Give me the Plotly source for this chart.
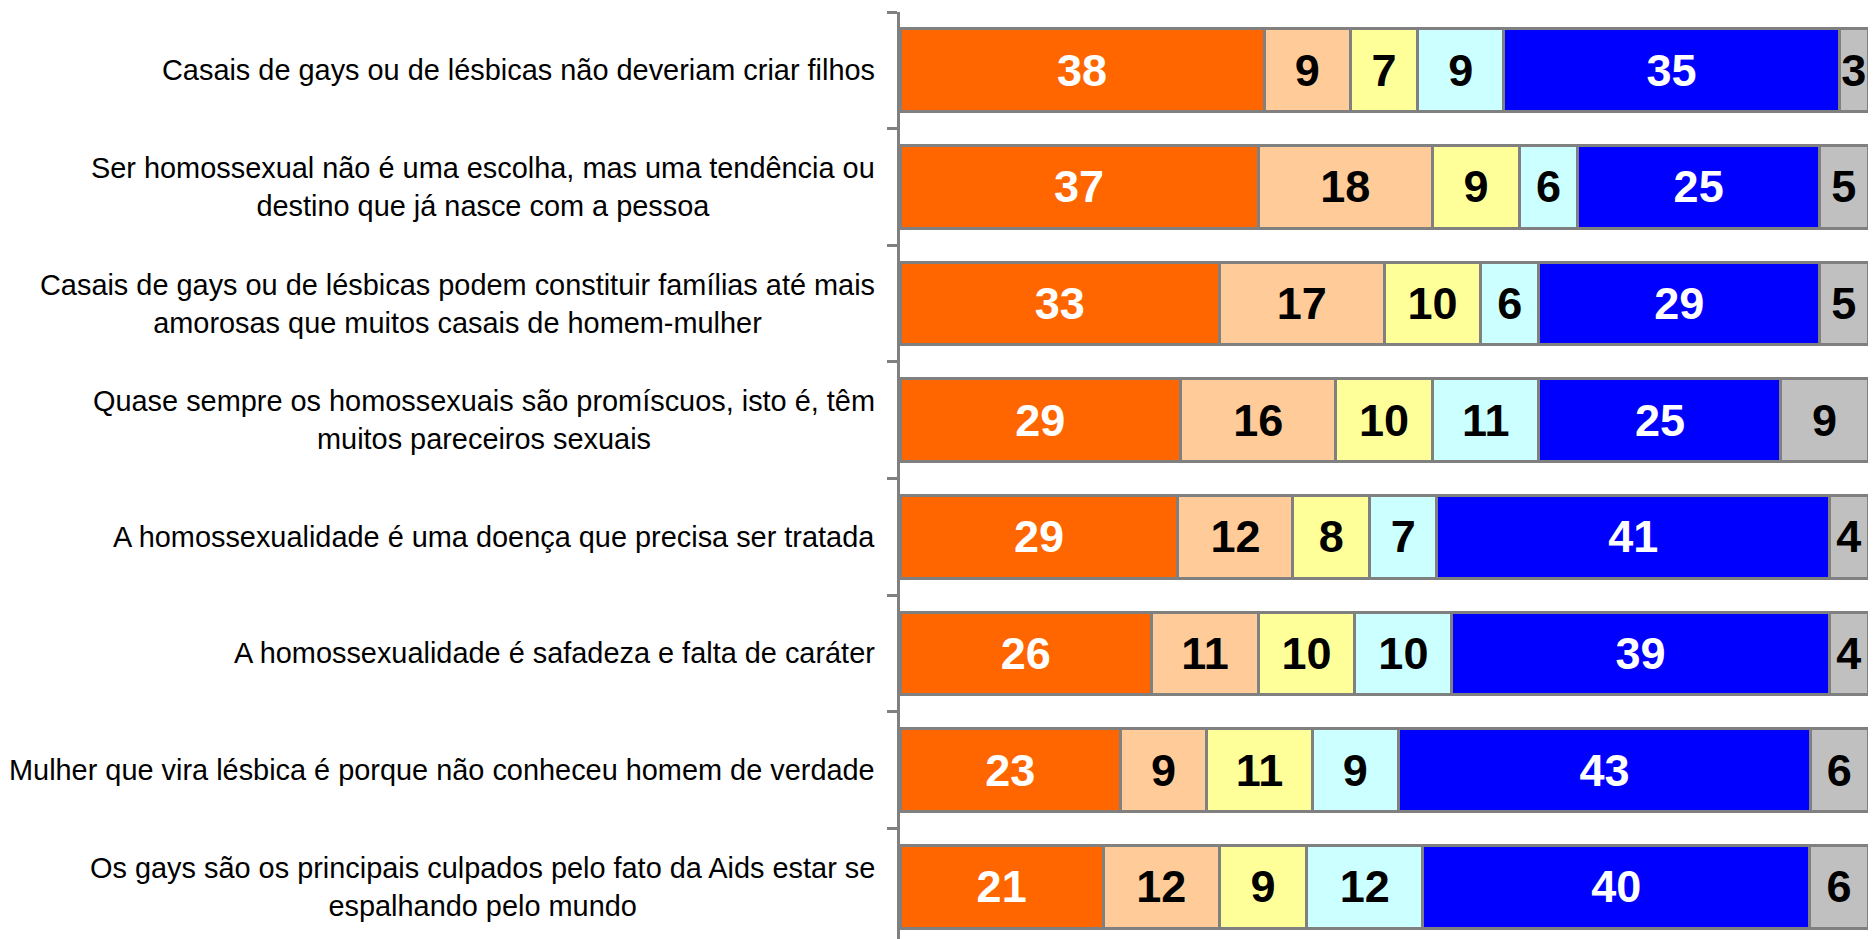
import plotly.graph_objects as go

categories = [
    "Casais de gays ou de lésbicas não deveriam criar filhos",
    "Ser homossexual não é uma escolha, mas uma tendência ou<br>destino que já nasce com a pessoa",
    "Casais de gays ou de lésbicas podem constituir famílias até mais<br>amorosas que muitos casais de homem-mulher",
    "Quase sempre os homossexuais são promíscuos, isto é, têm<br>muitos pareceiros sexuais",
    "A homossexualidade é uma doença que precisa ser tratada",
    "A homossexualidade é safadeza e falta de caráter",
    "Mulher que vira lésbica é porque não conheceu homem de verdade",
    "Os gays são os principais culpados pelo fato da Aids estar se<br>espalhando pelo mundo",
]

s1 = [38, 37, 33, 29, 29, 26, 23, 21]
s2 = [9, 18, 17, 16, 12, 11, 9, 12]
s3 = [7, 9, 10, 10, 8, 10, 11, 9]
s4 = [9, 6, 6, 11, 7, 10, 9, 12]
s5 = [35, 25, 29, 25, 41, 39, 43, 40]
s6 = [3, 5, 5, 9, 4, 4, 6, 6]

series = [s1, s2, s3, s4, s5, s6]
colors = ["#FF6600", "#FFCC99", "#FFFF99", "#CCFFFF", "#0000FF", "#C0C0C0"]
text_colors = ["white", "black", "black", "black", "white", "black"]

FONT = "Liberation Sans, Arial, sans-serif"

fig = go.Figure()
for vals, col, tcol in zip(series, colors, text_colors):
    fig.add_trace(go.Bar(
        x=vals, y=categories, orientation="h",
        marker=dict(color=col, line=dict(color="#808080", width=3)),
        text=[str(v) for v in vals],
        textposition="inside", insidetextanchor="middle",
        textfont=dict(family=FONT, size=45, color=tcol, weight="bold"),
        cliponaxis=False,
        hoverinfo="skip", showlegend=False,
    ))

for i, cat in enumerate(categories):
    fig.add_annotation(
        xref="paper", x=0, xshift=-23, xanchor="right",
        yref="y", y=i, yanchor="middle",
        text=cat, align="center", showarrow=False,
        font=dict(family=FONT, size=28.9, color="black"),
    )

fig.update_layout(
    width=1868, height=937, autosize=False,
    barmode="stack", barnorm="percent", bargap=0.29,
    margin=dict(l=892, r=6, t=4, b=0, autoexpand=False),
    plot_bgcolor="white", paper_bgcolor="white",
    uniformtext=dict(mode="show", minsize=45),
    xaxis=dict(range=[0, 100.2], visible=False, fixedrange=True),
    yaxis=dict(
        autorange="reversed", showticklabels=False,
        showline=True, linecolor="#808080", linewidth=3,
        ticks="outside", tickson="boundaries", ticklen=10,
        tickwidth=3, tickcolor="#808080", showgrid=False,
        zeroline=False, automargin=False,
    ),
)

fig.write_html("out.html")
